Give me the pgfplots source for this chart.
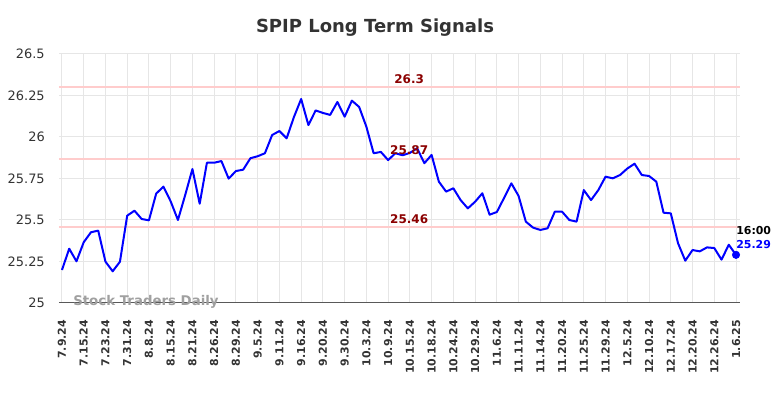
\documentclass[border=0pt]{standalone}
\usepackage{pgfplots}
\pgfplotsset{compat=1.18}
\usepackage{fontspec}
\setmainfont{DejaVu Sans}
\definecolor{gridc}{HTML}{E6E6E6}
\definecolor{sigline}{HTML}{FFCCCC}
\definecolor{sigtext}{HTML}{8B0000}
\definecolor{titlec}{HTML}{333333}
\definecolor{wm}{HTML}{A0A0A0}
\pgfplotstableread{
i v
0 25.199
1 25.327
2 25.251
3 25.366
4 25.426
5 25.436
6 25.249
7 25.191
8 25.249
9 25.526
10 25.556
11 25.506
12 25.498
13 25.659
14 25.701
15 25.612
16 25.500
17 25.650
18 25.807
19 25.598
20 25.845
21 25.845
22 25.855
23 25.749
24 25.795
25 25.803
26 25.872
27 25.884
28 25.902
29 26.012
30 26.036
31 25.992
32 26.120
33 26.229
34 26.072
35 26.160
36 26.145
37 26.133
38 26.211
39 26.122
40 26.219
41 26.181
42 26.062
43 25.902
44 25.910
45 25.861
46 25.902
47 25.890
48 25.904
49 25.932
50 25.842
51 25.892
52 25.731
53 25.671
54 25.691
55 25.620
56 25.570
57 25.610
58 25.661
59 25.532
60 25.548
61 25.633
62 25.721
63 25.645
64 25.490
65 25.454
66 25.440
67 25.450
68 25.550
69 25.550
70 25.500
71 25.490
72 25.680
73 25.620
74 25.680
75 25.761
76 25.751
77 25.771
78 25.810
79 25.839
80 25.771
81 25.765
82 25.731
83 25.544
84 25.540
85 25.360
86 25.255
87 25.319
88 25.311
89 25.335
90 25.331
91 25.261
92 25.351
93 25.290
}\prices
\begin{document}
\begin{tikzpicture}[x=1pt,y=1pt]
\useasboundingbox (0,0) rectangle (588,298.5);
\begin{axis}[
  at={(44.25pt,71.25pt)}, anchor=south west,
  scale only axis, width=510.75pt, height=186.75pt,
  xmin=-0.41, xmax=93.55, ymin=25, ymax=26.5,
  xtick={0,3,...,93},
  xticklabels={7.9.24,7.15.24,7.23.24,7.31.24,8.8.24,8.15.24,8.21.24,8.26.24,8.29.24,9.5.24,9.11.24,9.16.24,9.20.24,9.30.24,10.3.24,10.9.24,10.15.24,10.18.24,10.24.24,10.29.24,11.6.24,11.11.24,11.14.24,11.20.24,11.25.24,11.29.24,12.5.24,12.10.24,12.17.24,12.20.24,12.26.24,1.6.25},
  ytick={25,25.25,25.5,25.75,26,26.25,26.5},
  yticklabels={25,25.25,25.5,25.75,26,26.25,26.5},
  grid=major, major grid style={gridc, line width=0.75pt},
  axis x line*=bottom, axis y line*=left,
  x axis line style={draw=black!65, line width=0.75pt, -},
  y axis line style={draw=none},
  major tick length=0pt,
  xticklabel style={rotate=90, anchor=east, inner sep=0pt, font=\bfseries\fontsize{8.2}{9}\selectfont, text=titlec},
  xticklabel shift=12.5pt,
  yticklabel style={anchor=east, inner sep=0pt, font=\fontsize{9.7}{11}\selectfont, text=titlec},
  yticklabel shift=10.5pt,
  clip=false,
]
\addplot[sigline, line width=1.5pt, forget plot] coordinates {(-0.41,26.3) (93.55,26.3)};
\addplot[sigline, line width=1.5pt, forget plot] coordinates {(-0.41,25.87) (93.55,25.87)};
\addplot[sigline, line width=1.5pt, forget plot] coordinates {(-0.41,25.46) (93.55,25.46)};
\addplot[blue, line width=1.5pt, line join=round] table[x=i, y=v] {\prices};
\addplot[blue, only marks, mark=*, mark size=2.8pt] coordinates {(93,25.29)};
\node[text=sigtext, font=\bfseries\fontsize{9}{10}\selectfont, yshift=6pt] at (axis cs:47.9,26.3) {26.3};
\node[text=sigtext, font=\bfseries\fontsize{9}{10}\selectfont, yshift=6pt] at (axis cs:47.9,25.87) {25.87};
\node[text=sigtext, font=\bfseries\fontsize{9}{10}\selectfont, yshift=6pt] at (axis cs:47.9,25.46) {25.46};
\node[anchor=west, inner sep=0pt, font=\bfseries\fontsize{8.2}{9}\selectfont, text=black, yshift=18pt] at (axis cs:93,25.29) {16:00};
\node[anchor=west, inner sep=0pt, font=\bfseries\fontsize{8.2}{9}\selectfont, text=blue, yshift=7.5pt] at (axis cs:93,25.29) {25.29};
\node[anchor=west, inner sep=0pt, font=\bfseries\fontsize{10}{11}\selectfont, text=wm, yshift=1pt] at (axis cs:1.52,25) {Stock Traders Daily};
\end{axis}
\node[font=\bfseries\fontsize{13.5}{16}\selectfont, text=titlec] at (281.25,278) {SPIP Long Term Signals};
\end{tikzpicture}
\end{document}
